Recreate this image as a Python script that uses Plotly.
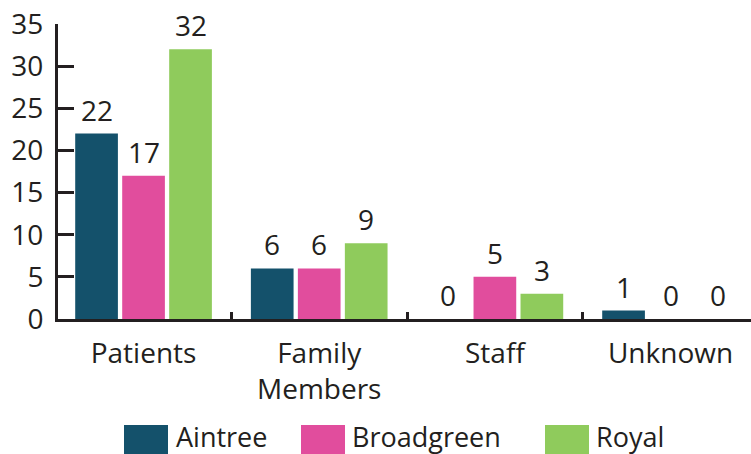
import plotly.graph_objects as go

categories = ["Patients", "Family<br>Members", "Staff", "Unknown"]
series_names = ["Aintree", "Broadgreen", "Royal"]
aintree = [22, 6, 0, 1]
broadgreen = [17, 6, 5, 0]
royal = [32, 9, 3, 0]
y_ticks = [0, 5, 10, 15, 20, 25, 30, 35]

values = [aintree, broadgreen, royal]
colors = ["#14516B", "#E14D9D", "#8FCB5C"]
FONT = "Open Sans, Lato, sans-serif"
FS = 28
INK = "#231F20"

FIG_W, FIG_H = 751, 454
L, T = 58, 24
W, H = FIG_W - L, 295.0
B = FIG_H - T - H
XR = [-0.487, 3.458]
CAT_PX = W / (XR[1] - XR[0])

fig = go.Figure()
for name, vals, col in zip(series_names, values, colors):
    fig.add_trace(go.Bar(x=categories, y=vals, name=name, marker=dict(color=col, line=dict(width=0)),
                         showlegend=False))

BARGAP, GROUPGAP = 0.1975, 0.0915
slot_px = CAT_PX * (1 - BARGAP) / 3
annotations = []
for i, vals in enumerate(values):
    for cat, v in zip(categories, vals):
        annotations.append(dict(x=cat, y=v, xref="x", yref="y", text=str(v), showarrow=False,
                                xshift=(i - 1) * slot_px, yshift=24, yanchor="middle",
                                font=dict(family=FONT, size=FS, color=INK)))

# manual legend (screen pixel positions)
def px_x(p):
    return (p - L) / W
def px_y(p):
    return (T + H - p) / H
swatch_x = [124, 301, 545]
text_x = [176, 352, 596]
shapes = []
for name, col, sx, tx in zip(series_names, colors, swatch_x, text_x):
    shapes.append(dict(type="rect", xref="paper", yref="paper", x0=px_x(sx), x1=px_x(sx + 44),
                       y0=px_y(470), y1=px_y(425), fillcolor=col, line=dict(width=0), layer="above"))
    annotations.append(dict(xref="paper", yref="paper", x=px_x(tx - 2), y=px_y(436), text=name,
                            showarrow=False, xanchor="left", yanchor="middle",
                            font=dict(family=FONT, size=27, color=INK)))

fig.update_layout(
    width=FIG_W, height=FIG_H,
    margin=dict(l=L, r=0, t=T, b=B, pad=0),
    paper_bgcolor="white", plot_bgcolor="white",
    barmode="group", bargap=BARGAP, bargroupgap=GROUPGAP,
    font=dict(family=FONT, size=FS, color=INK),
    annotations=annotations, shapes=shapes,
    xaxis=dict(type="category", range=XR, showline=True, linecolor=INK, linewidth=3,
               ticks="", showgrid=False, zeroline=False, ticklabelstandoff=7, automargin=False,
               tickfont=dict(family=FONT, size=FS, color=INK)),
    xaxis2=dict(overlaying="x", anchor="y", side="bottom", range=XR,
                tickmode="array", tickvals=[0.5, 1.5, 2.5], ticks="inside", ticklen=7, tickwidth=3,
                tickcolor=INK, showticklabels=False, showline=False, showgrid=False, zeroline=False),
    yaxis=dict(range=[0, 35], tickmode="array", tickvals=y_ticks, ticks="inside", ticklen=16,
               tickwidth=3, tickcolor=INK, showline=True, linecolor=INK, linewidth=3,
               showgrid=False, zeroline=False, ticklabelstandoff=6, automargin=False,
               tickfont=dict(family=FONT, size=FS, color=INK)),
)
fig.add_trace(go.Scatter(x=[0], y=[0], xaxis="x2", yaxis="y", mode="markers",
                         marker=dict(opacity=0), showlegend=False, hoverinfo="skip"))

fig.write_html("out.html", config={"displayModeBar": False},
               post_script="document.body.style.margin='0px';document.body.style.overflow='hidden';")
